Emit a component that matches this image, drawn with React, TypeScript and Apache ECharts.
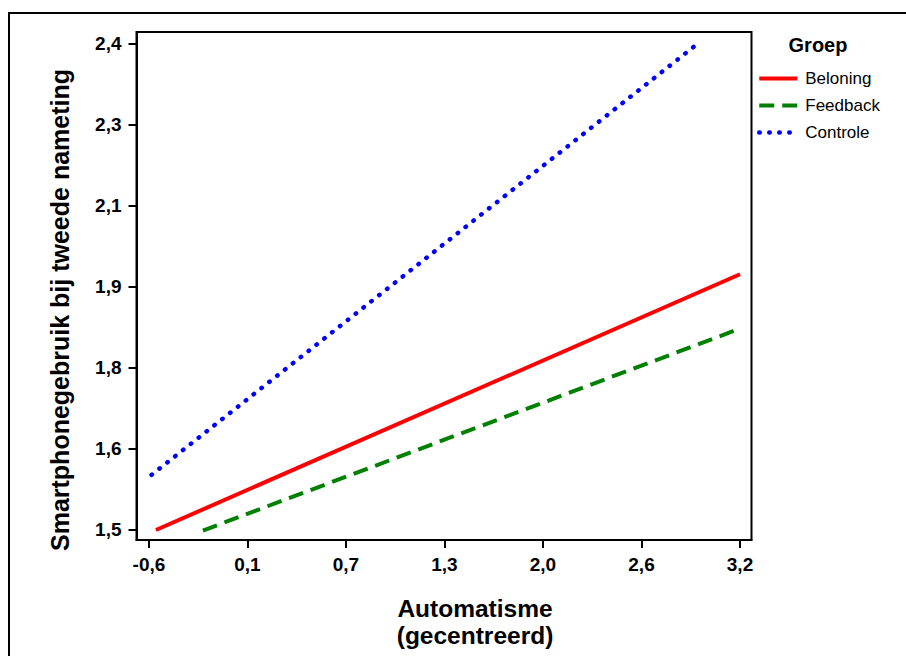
import React, { useEffect, useRef } from "react";
import * as echarts from "echarts";

const groups = ["Beloning", "Feedback", "Controle"];
const colors = ["#ff0000", "#008000", "#0000ff"];

// line end points [x, y]
const beloningData = [
  [-0.555, 1.5],
  [3.2, 1.973],
];
const feedbackData = [
  [-0.253, 1.499],
  [3.196, 1.872],
];
const controleData = [
  [-0.583, 1.602],
  [2.918, 2.397],
];

const xTickValues = [-0.6, 0.0333, 0.6667, 1.3, 1.9333, 2.5667, 3.2];
const xTickLabels = ["-0,6", "0,1", "0,7", "1,3", "2,0", "2,6", "3,2"];
const yTickValues = [1.5, 1.65, 1.8, 1.95, 2.1, 2.25, 2.4];
const yTickLabels = ["1,5", "1,6", "1,8", "1,9", "2,1", "2,3", "2,4"];

const X_MIN = -0.68;
const X_MAX = 3.274;
const Y_MIN = 1.4815;
const Y_MAX = 2.4209;

const FONT = "'Liberation Sans', Arial, sans-serif";

function nearestLabel(v: number, vals: number[], labels: string[]) {
  let best = 0;
  for (let i = 1; i < vals.length; i++) {
    if (Math.abs(vals[i] - v) < Math.abs(vals[best] - v)) best = i;
  }
  return labels[best];
}

export default function App() {
  const ref = useRef<HTMLDivElement>(null);
  useEffect(() => {
    document.body.style.margin = "0";
    if (!ref.current) return;
    const chart = echarts.init(ref.current, null, { renderer: "svg" });
    const lineStyles: any[] = [
      { width: 4, type: "solid" },
      { width: 4, type: [15, 8] },
      { width: 4.5, type: [0.5, 9.5], cap: "round" },
    ];
    const datas = [beloningData, feedbackData, controleData];
    chart.setOption({
      animation: false,
      backgroundColor: "#ffffff",
      grid: {
        left: 136.5,
        top: 32,
        right: 154.5,
        bottom: 116,
        show: true,
        borderColor: "#000",
        borderWidth: 2,
        backgroundColor: "transparent",
      },
      xAxis: {
        type: "value",
        min: X_MIN,
        max: X_MAX,
        axisLine: { show: true, onZero: false, lineStyle: { color: "#000", width: 2 } },
        axisTick: {
          show: true,
          length: 8,
          lineStyle: { color: "#000", width: 2 },
          customValues: xTickValues,
        },
        axisLabel: {
          customValues: xTickValues,
          formatter: (v: number) => nearestLabel(v, xTickValues, xTickLabels),
          fontFamily: FONT,
          fontWeight: "bold",
          fontSize: 19,
          color: "#000",
          margin: 15,
        },
        splitLine: { show: false },
      },
      yAxis: {
        type: "value",
        min: Y_MIN,
        max: Y_MAX,
        axisLine: { show: true, onZero: false, lineStyle: { color: "#000", width: 2 } },
        axisTick: {
          show: true,
          length: 8,
          lineStyle: { color: "#000", width: 2 },
          customValues: yTickValues,
        },
        axisLabel: {
          customValues: yTickValues,
          formatter: (v: number) => nearestLabel(v, yTickValues, yTickLabels),
          fontFamily: FONT,
          fontWeight: "bold",
          fontSize: 19,
          color: "#000",
          margin: 15,
        },
        splitLine: { show: false },
      },
      legend: {
        orient: "vertical",
        left: 757,
        top: 70,
        padding: 0,
        itemWidth: 38,
        itemHeight: 14,
        itemGap: 10,
        itemStyle: { opacity: 0 },
        data: groups.map((g, i) => ({
          name: g,
          itemStyle: { opacity: 0 },
          lineStyle: { ...lineStyles[i], color: colors[i] },
        })),
        textStyle: { fontFamily: FONT, fontSize: 17, color: "#000", padding: [0, 0, 0, 3] },
      },
      graphic: [
        {
          type: "rect",
          shape: { x: 9, y: 13, width: 1000, height: 1000 },
          style: { fill: "none", stroke: "#000", lineWidth: 2 },
          silent: true,
        },
        {
          type: "text",
          x: 60,
          y: 310,
          rotation: Math.PI / 2,
          style: {
            text: "Smartphonegebruik bij tweede nameting",
            fontFamily: FONT,
            fontWeight: "bold",
            fontSize: 25,
            fill: "#000",
            align: "center",
            verticalAlign: "middle",
          },
        },
        {
          type: "text",
          x: 475,
          y: 595,
          style: {
            text: "Automatisme\n(gecentreerd)",
            fontFamily: FONT,
            fontWeight: "bold",
            fontSize: 24.5,
            lineHeight: 27,
            fill: "#000",
            align: "center",
            verticalAlign: "top",
          },
        },
        {
          type: "text",
          x: 818,
          y: 45,
          style: {
            text: "Groep",
            fontFamily: FONT,
            fontWeight: "bold",
            fontSize: 20,
            fill: "#000",
            align: "center",
            verticalAlign: "middle",
          },
        },
      ],
      series: groups.map((g, i) => ({
        name: g,
        type: "line",
        data: datas[i],
        symbol: "none",
        showSymbol: false,
        color: colors[i],
        lineStyle: { color: colors[i], ...lineStyles[i] },
      })),
    });
    return () => chart.dispose();
  }, []);
  return <div ref={ref} style={{ width: 906, height: 656 }} />;
}
